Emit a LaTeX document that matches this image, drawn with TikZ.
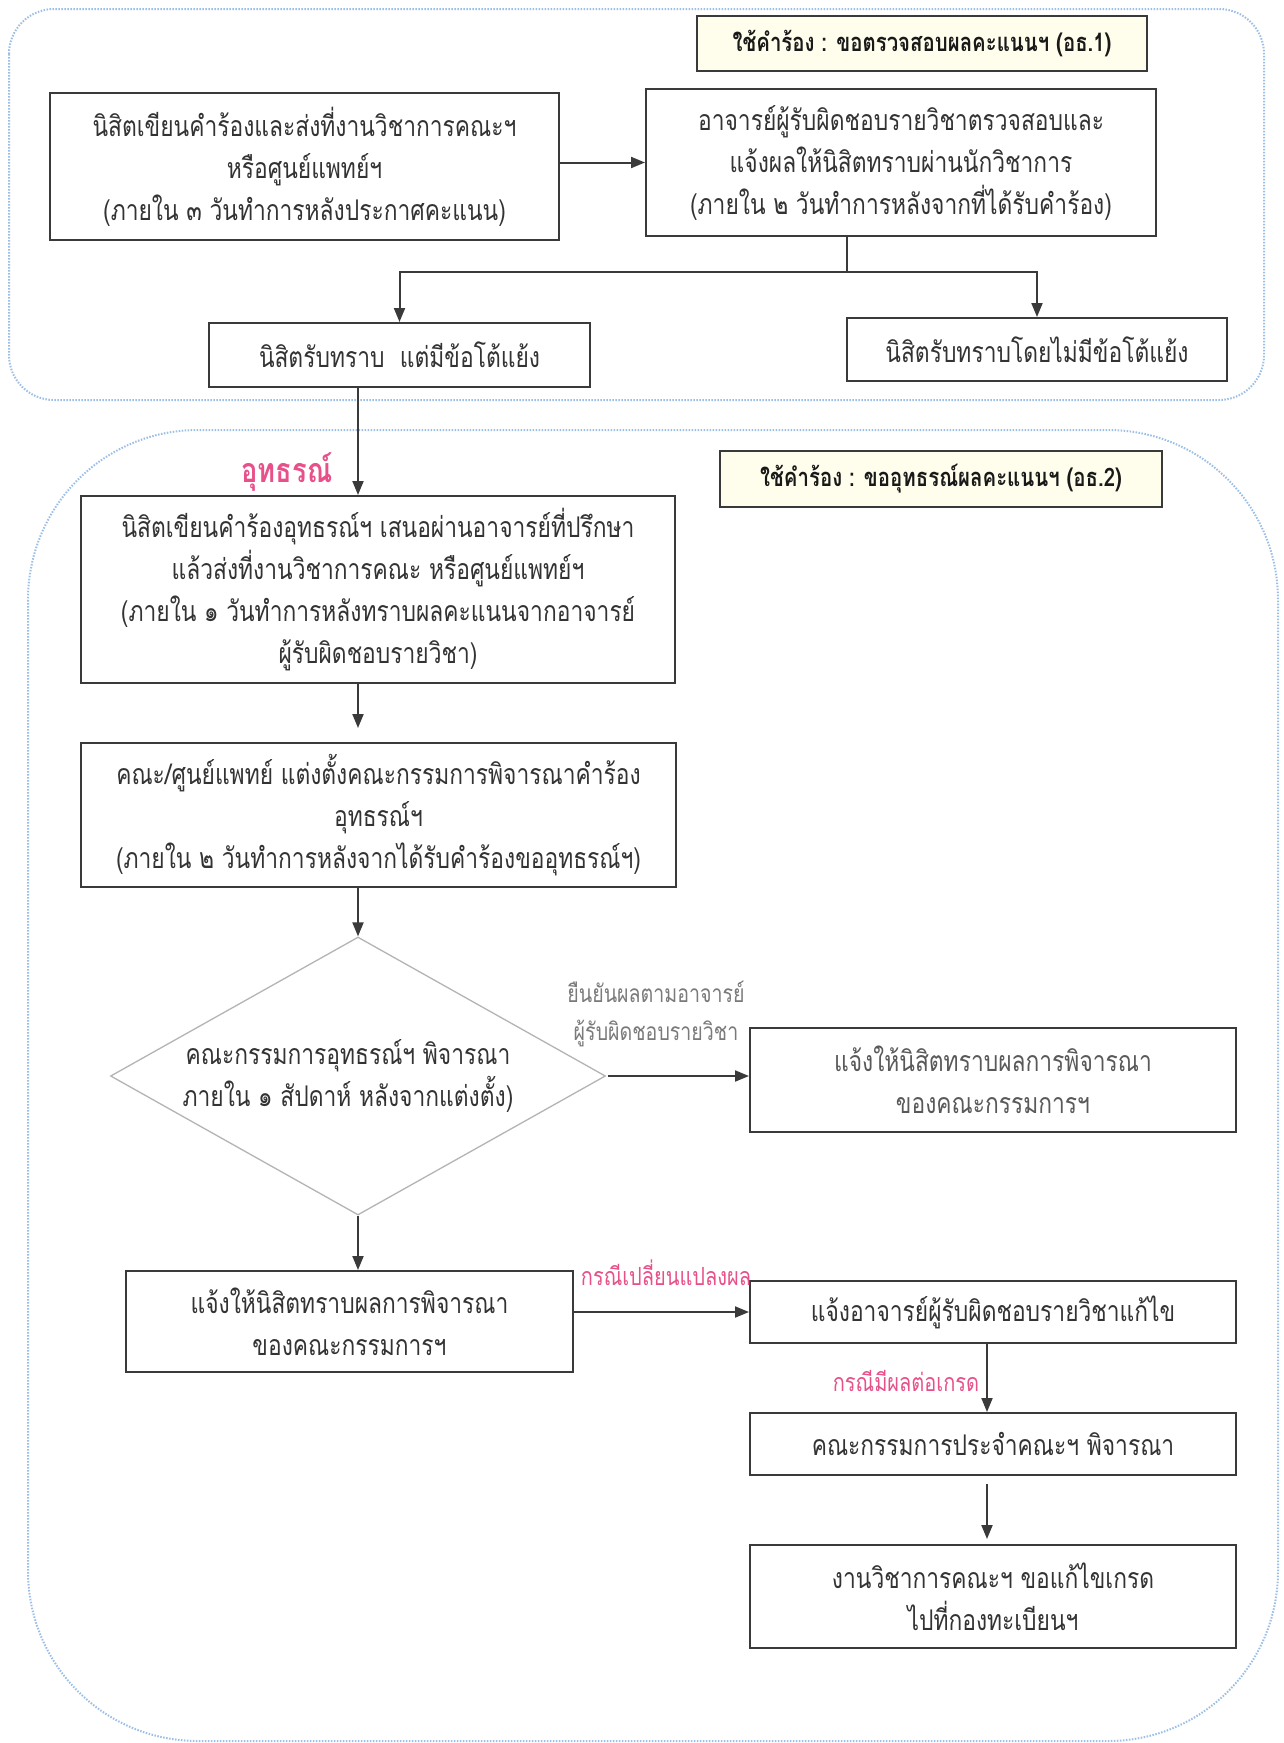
\documentclass[tikz,border=0pt]{standalone}
\usepackage{fontspec}
\setmainfont{Loma}[Script=Thai, FakeStretch=0.8]
\usetikzlibrary{arrows.meta,shapes.geometric}
\definecolor{linec}{HTML}{3A3A3A}
\definecolor{dotc}{HTML}{9BBFE6}
\definecolor{pinkc}{HTML}{E8508A}
\definecolor{grayt}{HTML}{7A7A7A}
\definecolor{titlefill}{HTML}{FFFDEB}
\definecolor{diac}{HTML}{B4B4B4}
\begin{document}
\begin{tikzpicture}[x=1pt,y=-1pt,
  box/.style={draw=linec, line width=2pt, align=center, inner sep=0pt, text=black!80, font=\fontsize{28.5}{42}\selectfont},
  titlebox/.style={box, fill=titlefill, line width=2.2pt, text=black!90, font=\fontsize{25.5}{30}\selectfont\bfseries},
  arr/.style={draw=linec, line width=2pt, -{Triangle[length=14pt,width=11pt]}},
  conn/.style={draw=linec, line width=2pt},
  container/.style={draw=dotc, line width=2pt, dash pattern=on 1.5pt off 1.5pt},
  pinklbl/.style={text=pinkc, inner sep=0pt, font=\fontsize{25}{28}\selectfont},
  graylbl/.style={text=grayt, inner sep=0pt, align=center, font=\fontsize{24.5}{38}\selectfont},
  diabox/.style={draw=diac, line width=1.3pt, shape=diamond, inner sep=0pt},
  ]
\fill[white] (0,0) rectangle (1284,1743);
\useasboundingbox (0,0) rectangle (1284,1743);

% containers
\draw[container, rounded corners=45pt] (9,9) rectangle (1264,400);
\draw[container, rounded corners=170pt] (28,430) rectangle (1278,1741);

% top part
\node[titlebox, minimum width=450pt, minimum height=55pt] (t1) at (922,43.5) {ใช้คำร้อง : ขอตรวจสอบผลคะแนนฯ (อธ.1)};
\node[box, minimum width=509pt, minimum height=147pt] (A) at (304.5,166.5) {นิสิตเขียนคำร้องและส่งที่งานวิชาการคณะฯ\\หรือศูนย์แพทย์ฯ\\(ภายใน ๓ วันทำการหลังประกาศคะแนน)};
\node[box, minimum width=510pt, minimum height=147pt] (B) at (901,162.5) {อาจารย์ผู้รับผิดชอบรายวิชาตรวจสอบและ\\แจ้งผลให้นิสิตทราบผ่านนักวิชาการ\\(ภายใน ๒ วันทำการหลังจากที่ได้รับคำร้อง)};
\node[box, minimum width=381pt, minimum height=64pt] (C) at (399.5,355) {นิสิตรับทราบ~~แต่มีข้อโต้แย้ง};
\node[box, minimum width=380pt, minimum height=63pt] (D) at (1037,349.5) {นิสิตรับทราบโดยไม่มีข้อโต้แย้ง};

\draw[arr] (A.east |- B.west) -- (B.west);
\coordinate (split) at (847,272);
\draw[conn] (B.south -| split) -- (split);
\draw[arr] (split) -| (C.north);
\draw[arr] (split) -| (D.north);

% bottom part
\coordinate (cx) at (358,0);
\node[titlebox, minimum width=442pt, minimum height=56pt] (t2) at (941,479) {ใช้คำร้อง : ขออุทธรณ์ผลคะแนนฯ (อธ.2)};
\node[text=pinkc, inner sep=0pt, font=\fontsize{34}{36}\selectfont\bfseries] (appeal) at (287,472) {อุทธรณ์};
\node[box, minimum width=594pt, minimum height=187pt] (E) at (378,589.5) {นิสิตเขียนคำร้องอุทธรณ์ฯ เสนอผ่านอาจารย์ที่ปรึกษา\\แล้วส่งที่งานวิชาการคณะ หรือศูนย์แพทย์ฯ\\(ภายใน ๑ วันทำการหลังทราบผลคะแนนจากอาจารย์\\ผู้รับผิดชอบรายวิชา)};
\node[box, minimum width=595pt, minimum height=144pt] (F) at (378.5,815) {คณะ/ศูนย์แพทย์ แต่งตั้งคณะกรรมการพิจารณาคำร้อง\\อุทธรณ์ฯ\\(ภายใน ๒ วันทำการหลังจากได้รับคำร้องขออุทธรณ์ฯ)};
\node[diabox, minimum width=495pt, minimum height=278pt] (dia) at (358,1076) {};
\node[align=center, inner sep=0pt, text=black!80, font=\fontsize{28.5}{42}\selectfont] (diatext) at (348,1076) {คณะกรรมการอุทธรณ์ฯ พิจารณา\\ภายใน ๑ สัปดาห์ หลังจากแต่งตั้ง)};
\node[box, minimum width=486pt, minimum height=104pt, text=black!65] (G) at (993,1080) {แจ้งให้นิสิตทราบผลการพิจารณา\\ของคณะกรรมการฯ};
\node[box, minimum width=447pt, minimum height=101pt] (H) at (349.5,1321.5) {แจ้งให้นิสิตทราบผลการพิจารณา\\ของคณะกรรมการฯ};
\node[box, minimum width=486pt, minimum height=62pt] (I) at (993,1312) {แจ้งอาจารย์ผู้รับผิดชอบรายวิชาแก้ไข};
\node[box, minimum width=486pt, minimum height=62pt] (J) at (993,1444) {คณะกรรมการประจำคณะฯ พิจารณา};
\node[box, minimum width=486pt, minimum height=103pt] (K) at (993,1596.5) {งานวิชาการคณะฯ ขอแก้ไขเกรด\\ไปที่กองทะเบียนฯ};

\node[graylbl] (confirm) at (656,1014) {ยืนยันผลตามอาจารย์\\ผู้รับผิดชอบรายวิชา};
\node[pinklbl] (change) at (666,1273) {กรณีเปลี่ยนแปลงผล};
\node[pinklbl] (grade) at (906,1381) {กรณีมีผลต่อเกรด};

\draw[arr] (C.south -| cx) -- (E.north -| cx);
\draw[arr] (E.south -| cx) -- ([yshift=14pt]F.north -| cx);
\draw[arr] (F.south -| cx) -- (dia.north);
\draw[arr] ([xshift=2pt]dia.east) -- (dia.east -| G.west);
\draw[arr] (dia.south) -- (H.north -| cx);
\draw[arr] (H.east |- I.west) -- (I.west);
\draw[arr] ([xshift=-6pt]I.south) -- ([xshift=-6pt]J.north);
\draw[arr] ([xshift=-6pt,yshift=-8pt]J.south) -- ([xshift=-6pt,yshift=5pt]K.north);
\end{tikzpicture}
\end{document}
